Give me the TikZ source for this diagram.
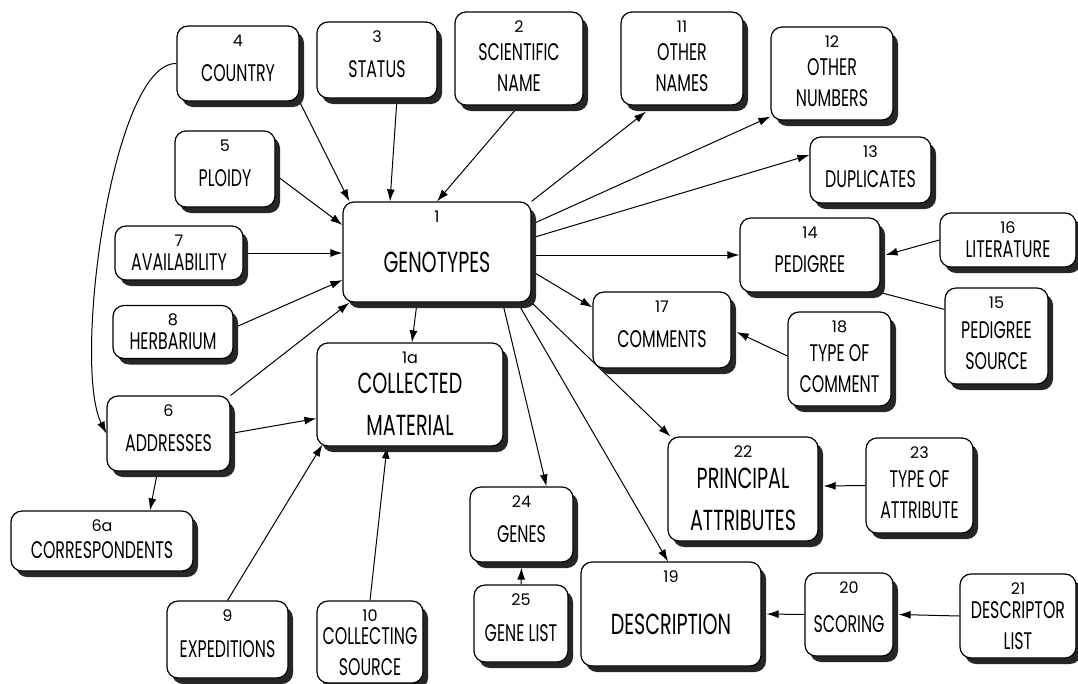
\documentclass[tikz,border=0pt]{standalone}
\usepackage{fontspec}
\setmainfont{Poppins}[FakeStretch=0.66]
\newfontfamily\numfont{Poppins}
\usetikzlibrary{arrows.meta,shadows,backgrounds}

\newcommand{\lbl}[1]{\raisebox{-18pt}[0pt][0pt]{\begin{tabular}{@{}c@{}}#1\end{tabular}}}

\tikzset{
  ent/.style n args={3}{draw, line width=1.2pt, rounded corners=11pt, fill=white,
    minimum width=#1pt, minimum height=#2pt, inner sep=0pt,
    drop shadow={shadow xshift=5pt, shadow yshift=-6pt, fill=black!85, opacity=1},
    font=\fontsize{24}{31}\selectfont, label={[num]north:#3}},
  bigent/.style n args={3}{ent={#1}{#2}{#3}, font=\fontsize{29}{42}\selectfont},
  num/.style={anchor=north, yshift=-7pt, inner sep=2pt, font=\numfont\fontsize{16}{16}\selectfont},
  link/.style={-{Latex[length=12pt,width=8pt]}, line width=1pt},
}

\begin{document}
\begin{tikzpicture}[x=1pt,y=-1pt]
\useasboundingbox (0,0) rectangle (1078,683);
% entities
\node[bigent={188}{100}{1}] (n1) at (437,252) {\lbl{GENOTYPES}};
\node[bigent={186}{103}{1a}] (n1a) at (410,394.5) {\lbl{COLLECTED\\MATERIAL}};
\node[ent={128}{93}{2}] (n2) at (519,58.5) {\lbl{SCIENTIFIC\\NAME}};
\node[ent={120}{76}{3}] (n3) at (377,60) {\lbl{STATUS}};
\node[ent={122}{75}{4}] (n4) at (238,63.5) {\lbl{COUNTRY}};
\node[ent={100}{76}{5}] (n5) at (225,169) {\lbl{PLOIDY}};
\node[ent={123}{75}{6}] (n6) at (168.5,433.5) {\lbl{ADDRESSES}};
\node[ent={182}{60}{6a}] (n6a) at (102,541) {\lbl{CORRESPONDENTS}};
\node[ent={128}{54}{7}] (n7) at (179,253) {\lbl{AVAILABILITY}};
\node[ent={120}{53}{8}] (n8) at (173,332) {\lbl{HERBARIUM}};
\node[ent={121}{77}{9}] (n9) at (227.5,639.5) {\lbl{EXPEDITIONS}};
\node[ent={106}{82}{10}] (n10) at (370,642) {\lbl{COLLECTING\\SOURCE}};
\node[ent={122}{93}{11}] (n11) at (682,58.5) {\lbl{OTHER\\NAMES}};
\node[ent={122}{93}{12}] (n12) at (832,73.5) {\lbl{OTHER\\NUMBERS}};
\node[ent={121}{66}{13}] (n13) at (870.5,170) {\lbl{DUPLICATES}};
\node[ent={140}{74}{14}] (n14) at (810,255) {\lbl{PEDIGREE}};
\node[ent={103}{96}{15}] (n15) at (996.5,336) {\lbl{PEDIGREE\\SOURCE}};
\node[ent={136}{54}{16}] (n16) at (1008,240) {\lbl{LITERATURE}};
\node[ent={138}{76}{17}] (n17) at (662,330) {\lbl{COMMENTS}};
\node[ent={103}{94}{18}] (n18) at (839.5,359) {\lbl{TYPE OF\\COMMENT}};
\node[bigent={180}{104}{19}] (n19) at (671,614) {\lbl{DESCRIPTION}};
\node[ent={88}{83}{20}] (n20) at (849,614.5) {\lbl{SCORING}};
\node[ent={116}{84}{21}] (n21) at (1018,616) {\lbl{DESCRIPTOR\\LIST}};
\node[bigent={150}{104}{22}] (n22) at (743,489) {\lbl{PRINCIPAL\\ATTRIBUTES}};
\node[ent={107}{95}{23}] (n23) at (919.5,485.5) {\lbl{TYPE OF\\ATTRIBUTE}};
\node[ent={103}{75}{24}] (n24) at (521.5,524.5) {\lbl{GENES}};
\node[ent={94}{77}{25}] (n25) at (521,623.5) {\lbl{GENE LIST}};
% links
\begin{scope}[on background layer]
\draw[link] (n4.south east) -- ([xshift=7pt]n1.north west);
\draw[link] ([xshift=20pt]n3.south) -- ([xshift=-47pt]n1.north);
\draw[link] (n2.south) -- (n1.north);
\draw[link] ([yshift=-6pt]n5.east) -- ([yshift=27pt]n1.west);
\draw[link] (n7.east) -- (n7.east -| n1.west);
\draw[link] ([yshift=4pt]n8.east) -- ([yshift=-28pt]n1.west);
\draw[link] (n6.north east) -- ([xshift=7pt]n1.south west);
\draw[link] (n4.west) .. controls (112,62) and (72,365) .. (n6.west);
\draw[link] ([xshift=-20pt]n1.south) -- ([xshift=2pt]n1a.north);
\draw[link] (n6.east) -- ([yshift=-24pt]n1a.west);
\draw[link] (n9.north) -- ([xshift=6pt,yshift=2pt]n1a.south west);
\draw[link] (n10.north) -- ([xshift=-23pt]n1a.south);
\draw[link] ([xshift=-11pt]n6.south) -- ([xshift=48pt]n6a.north);
\draw[link] (n1.north east) -- ([xshift=-36pt,yshift=-6pt]n11.south);
\draw[link] ([yshift=-23pt]n1.north east) -- ([yshift=4pt]n12.south west);
\draw[link] ([yshift=14pt]n1.east) -- ([yshift=15pt]n13.west);
\draw[link] (n14.west -| n1.east) -- (n14.west);
\draw[link] (n16.west) -- ([xshift=5pt]n14.east);
\draw[line width=1pt] ([yshift=-22pt]n15.north west) -- (n14.south east);
\draw[link] ([yshift=-19pt]n1.east) -- ([yshift=-16pt]n17.north west);
\draw[link] ([yshift=3pt]n18.west) -- ([xshift=5pt,yshift=-2pt]n17.east);
\draw[link] (n1.south east) -- ([xshift=3pt]n22.north west);
\draw[link] (n23.west) -- ([xshift=5pt,yshift=3pt]n22.east);
\draw[link] ([xshift=-14pt]n1.south east) -- ([xshift=-3pt]n19.north);
\draw[link] (n20.west) -- ([xshift=5pt]n19.east);
\draw[link] (n21.west) -- ([xshift=5pt]n20.east);
\draw[link] ([xshift=-29pt]n1.south east) -- ([xshift=25pt]n24.north);
\draw[link] (n25.north) -- ([yshift=-5pt]n24.south);
\end{scope}
\end{tikzpicture}
\end{document}
